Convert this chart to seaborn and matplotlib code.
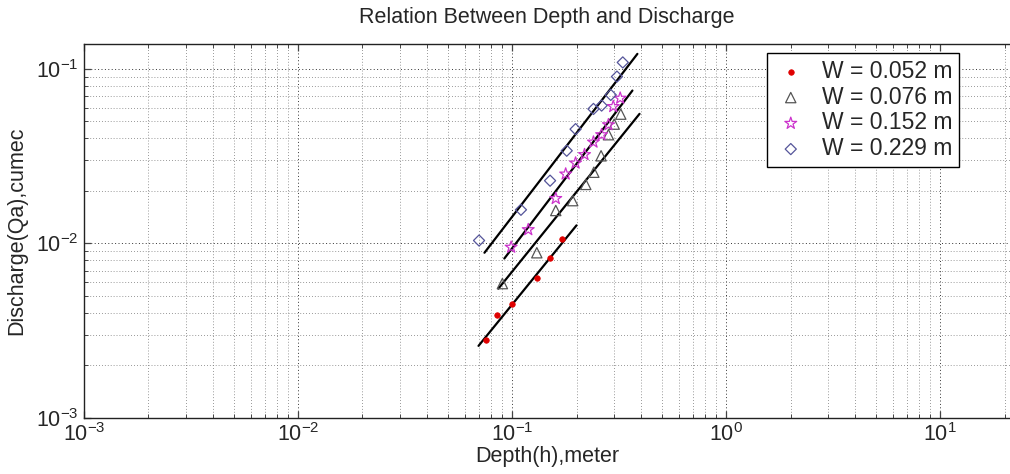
import matplotlib
matplotlib.use("Agg")
import matplotlib.pyplot as plt
import seaborn as sns
import numpy as np
from matplotlib.ticker import LogLocator, LogFormatterSciNotation, NullFormatter

# ---- data ----
h_052 = [0.0753, 0.0854, 0.0997, 0.1305, 0.1505, 0.1714]
q_052 = [0.00279, 0.00389, 0.00448, 0.00634, 0.00828, 0.01054]

h_076 = [0.0901, 0.1305, 0.160, 0.192, 0.221, 0.241, 0.2605, 0.282, 0.300, 0.322]
q_076 = [0.00589, 0.00885, 0.01545, 0.0176, 0.0218, 0.0256, 0.0318, 0.042, 0.0483, 0.0551]

h_152 = [0.099, 0.119, 0.160, 0.178, 0.198, 0.218, 0.240, 0.262, 0.282, 0.297, 0.320]
q_152 = [0.00952, 0.0120, 0.0181, 0.0250, 0.0289, 0.0323, 0.0381, 0.042, 0.0479, 0.0609, 0.068]

h_229 = [0.0701, 0.110, 0.1505, 0.180, 0.198, 0.240, 0.262, 0.289, 0.309, 0.329]
q_229 = [0.0104, 0.0156, 0.0229, 0.034, 0.0452, 0.059, 0.0617, 0.071, 0.0904, 0.109]

# fitted lines (end points)
fit_h_052 = [0.0697, 0.2]
fit_q_052 = [0.00259, 0.0127]
fit_h_076 = [0.0863, 0.394]
fit_q_076 = [0.00551, 0.0553]
fit_h_152 = [0.092, 0.365]
fit_q_152 = [0.0082, 0.0752]
fit_h_229 = [0.0743, 0.385]
fit_q_229 = [0.00885, 0.122]

labels = ["W = 0.052 m", "W = 0.076 m", "W = 0.152 m", "W = 0.229 m"]
title = "Relation Between Depth and Discharge"
xlabel = "Depth(h),meter"
ylabel = "Discharge(Qa),cumec"

# ---- style ----
sns.set_style("white")
plt.rcParams['font.family'] = ['Liberation Sans', 'DejaVu Sans']
plt.rcParams['mathtext.fontset'] = 'custom'
plt.rcParams['mathtext.rm'] = 'Liberation Sans'
plt.rcParams['mathtext.it'] = 'Liberation Sans:italic'
plt.rcParams['mathtext.bf'] = 'Liberation Sans:bold'

fig = plt.figure(figsize=(10.10, 4.74), dpi=100)
ax = fig.add_axes([84/1010, 1-418/474, 926/1010, 374/474])

# grid
ax.set_xscale('log')
ax.set_yscale('log')
ax.set_xlim(1e-3, 21.2)
ax.set_ylim(1e-3, 0.139)
ax.xaxis.set_major_locator(LogLocator(base=10, numticks=20))
ax.yaxis.set_major_locator(LogLocator(base=10, numticks=20))
ax.xaxis.set_minor_locator(LogLocator(base=10, subs=np.arange(2, 10), numticks=50))
ax.yaxis.set_minor_locator(LogLocator(base=10, subs=np.arange(2, 10), numticks=50))
ax.xaxis.set_major_formatter(LogFormatterSciNotation())
ax.yaxis.set_major_formatter(LogFormatterSciNotation())
ax.xaxis.set_minor_formatter(NullFormatter())
ax.yaxis.set_minor_formatter(NullFormatter())
ax.grid(True, which='major', linestyle=(0, (1, 2.5)), color='#333333', linewidth=0.7)
ax.grid(True, which='minor', linestyle=(0, (1, 2.5)), color='#777777', linewidth=0.6)
ax.set_axisbelow(True)

# fit lines
line_kw = dict(color='black', linewidth=1.6, legend=False, estimator=None, sort=False)
for fh, fq in [(fit_h_052, fit_q_052), (fit_h_076, fit_q_076),
               (fit_h_152, fit_q_152), (fit_h_229, fit_q_229)]:
    sns.lineplot(x=fh, y=fq, ax=ax, **line_kw)

# points
sns.scatterplot(x=h_052, y=q_052, ax=ax, marker='o', s=16, color='#e00000',
                edgecolor='#e00000', linewidth=0.5, label=labels[0], zorder=3)
sns.scatterplot(x=h_076, y=q_076, ax=ax, marker='^', s=55, facecolor='none',
                edgecolor='#555555', linewidth=0.9, label=labels[1], zorder=3)
sns.scatterplot(x=h_152, y=q_152, ax=ax, marker='*', s=80, facecolor='none',
                edgecolor='#cc33cc', linewidth=0.9, label=labels[2], zorder=3)
sns.scatterplot(x=h_229, y=q_229, ax=ax, marker='D', s=32, facecolor='none',
                edgecolor='#55559a', linewidth=0.9, label=labels[3], zorder=3)

# spines / ticks
for s in ['left', 'bottom', 'top']:
    ax.spines[s].set_visible(True)
    ax.spines[s].set_color('#222222')
    ax.spines[s].set_linewidth(1.0)
ax.spines['right'].set_visible(False)
ax.tick_params(which='both', direction='in', top=True, right=False, bottom=True, left=True,
               color='#444444')
ax.tick_params(which='major', length=5, width=0.9, labelsize=15.5, pad=4)
ax.tick_params(which='minor', length=3, width=0.7)

ax.set_title(title, fontsize=15.5, pad=15)
ax.set_xlabel(xlabel, fontsize=15.5, labelpad=0)
ax.set_ylabel(ylabel, fontsize=15.5, labelpad=6)

leg = ax.legend(loc='upper right', bbox_to_anchor=(0.945, 0.976), borderaxespad=0,
                fontsize=16.5, frameon=True, fancybox=False, edgecolor='black',
                framealpha=1, handletextpad=0.6, borderpad=0.3, labelspacing=0.12,
                handlelength=1.5)
leg.get_frame().set_linewidth(1.0)

fig.savefig("out.png", dpi=100)
